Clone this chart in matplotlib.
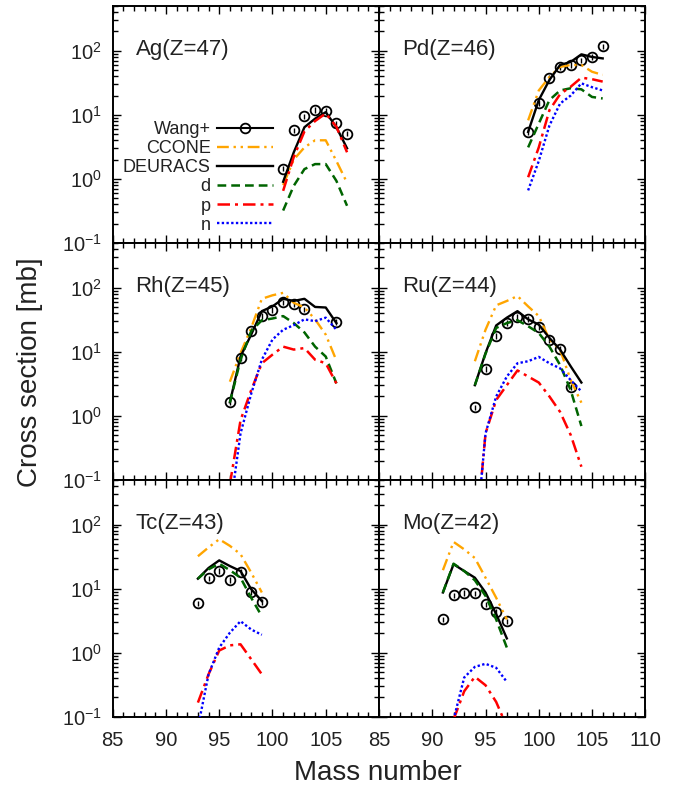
import matplotlib
matplotlib.use('Agg')
import matplotlib.pyplot as plt
from matplotlib.lines import Line2D
from matplotlib.ticker import LogLocator, MultipleLocator, NullFormatter

plt.rcParams['font.family'] = ['Liberation Sans', 'DejaVu Sans']
plt.rcParams['mathtext.fontset'] = 'custom'
plt.rcParams['mathtext.rm'] = 'Liberation Sans'
plt.rcParams['mathtext.default'] = 'regular'

TXT = '#222222'

# ---- data (cross sections in mb) ----
ag_A = [101, 102, 103, 104, 105, 106, 107]
ag_wang = [1.45, 5.7, 9.5, 12, 11.5, 7.4, 5.1]
ag_deuracs = [0.9, 2.6, 6.4, 8.7, 11, 6.4, 3.0]
ag_ccone = [0.8, 2.0, 3.1, 4.0, 4.0, 1.9, 0.87]
ag_d = [0.32, 0.78, 1.42, 1.7, 1.7, 0.93, 0.38]
ag_p = [0.65, 2.2, 5.5, 8.0, 10.5, 6.5, 2.6]

pd_A = [99, 100, 101, 102, 103, 104, 105, 106]
pd_wang = [5.4, 15.3, 38, 56, 60, 71, 80, 118]
pd_deuracs = [5.4, 17, 35, 60, 67, 88, 80, 76]
pd_ccone = [8.2, 24, 39, 56, 60, 60, 47, 42]
pd_d = [3.1, 7.3, 17, 24, 26, 25, 19, 18]
pd_p = [1.06, 3.1, 11.8, 21, 27.5, 38, 36, 33]
pd_n = [0.66, 1.9, 6.8, 15, 20, 31, 27, 24]

rh_A = [96, 97, 98, 99, 100, 101, 102, 103, 104, 105, 106]
rh_wang_A = [96, 97, 98, 99, 100, 101, 102, 103, 106]
rh_wang = [1.62, 8.1, 21, 36, 45, 59, 55, 46, 29]
rh_deuracs = [1.62, 8.4, 18.5, 43, 51, 67, 62, 67, 50, 49, 28]
rh_ccone = [3.4, 9.5, 23.5, 67, 76, 83, 58, 49, 32, 18.5, 7.3]
rh_d = [1.6, 7.5, 21, 31, 33, 36, 28, 20, 12, 8.4, 3.2]
rh_p = [0.085, 0.85, 2.5, 6.6, 9, 12, 10.8, 11.4, 7.5, 6.6, 3.2]
rh_n = [0.033, 0.53, 2.2, 7.5, 15.5, 22, 26, 32, 30, 34, 22]

ru_A = [94, 95, 96, 97, 98, 99, 100, 101, 102, 103, 104]
ru_wang_A = [94, 95, 96, 97, 98, 99, 100, 101, 102, 103]
ru_wang = [1.35, 5.4, 17.8, 28, 35, 32.5, 24.5, 15, 11, 2.85]
ru_deuracs = [3.0, 9.5, 25.7, 34, 43, 32, 26.5, 16.4, 10.8, 5.9, 3.3]
ru_ccone = [7.1, 22, 53, 62, 74, 51, 36, 15.5, 10.8, 3.6, 1.6]
ru_d = [3.0, 9.3, 23.5, 28, 31, 25, 19.6, 12, 6.2, 2.5, 0.69]
ru_p = [0.008, 0.53, 1.76, 3.0, 5.1, 4.1, 3.3, 2.0, 1.15, 0.5, 0.16]
ru_n = [0.008, 0.53, 2.0, 4.1, 6.6, 7.1, 8.3, 6.6, 5.5, 3.6, 2.4]

tc_A = [93, 94, 95, 96, 97, 98, 99]
tc_wang = [5.9, 14.5, 18.8, 13.8, 18.2, 8.8, 6.2]
tc_deuracs = [14.3, 21, 27.6, 22.5, 18.8, 9.8, 6.4]
tc_ccone = [32, 44, 59, 46.5, 34.5, 17.8, 8.7]
tc_d = [14.3, 20, 24.5, 19.4, 14.8, 7.2, 3.7]
tc_p = [0.166, 0.46, 1.08, 1.3, 1.35, 0.79, 0.46]
tc_n = [0.068, 0.46, 1.2, 2.05, 3.1, 2.3, 1.9]

mo_A = [91, 92, 93, 94, 95, 96, 97]
mo_pn_A = [92, 93, 94, 95, 96, 97]
mo_wang = [3.3, 7.9, 8.6, 8.4, 5.7, 4.3, 3.1]
mo_deuracs = [8.7, 24, 18.8, 14.8, 8.7, 4.0, 1.67]
mo_ccone = [19.4, 53.6, 41, 30, 14.8, 7.2, 3.3]
mo_d = [8.7, 24.5, 18.8, 13.5, 7.7, 3.3, 1.2]
mo_p = [0.09, 0.25, 0.42, 0.31, 0.17, 0.07]
mo_n = [0.09, 0.41, 0.6, 0.67, 0.58, 0.35]

wang_rel_err = 0.1

panels = [
    dict(name='Ag(Z=47)', A=ag_A, wA=ag_A, wang=ag_wang, deuracs=ag_deuracs,
         ccone=ag_ccone, d=ag_d, p=ag_p, pnA=ag_A, n=None),
    dict(name='Pd(Z=46)', A=pd_A, wA=pd_A, wang=pd_wang, deuracs=pd_deuracs,
         ccone=pd_ccone, d=pd_d, p=pd_p, pnA=pd_A, n=pd_n),
    dict(name='Rh(Z=45)', A=rh_A, wA=rh_wang_A, wang=rh_wang, deuracs=rh_deuracs,
         ccone=rh_ccone, d=rh_d, p=rh_p, pnA=rh_A, n=rh_n),
    dict(name='Ru(Z=44)', A=ru_A, wA=ru_wang_A, wang=ru_wang, deuracs=ru_deuracs,
         ccone=ru_ccone, d=ru_d, p=ru_p, pnA=ru_A, n=ru_n),
    dict(name='Tc(Z=43)', A=tc_A, wA=tc_A, wang=tc_wang, deuracs=tc_deuracs,
         ccone=tc_ccone, d=tc_d, p=tc_p, pnA=tc_A, n=tc_n),
    dict(name='Mo(Z=42)', A=mo_A, wA=mo_A, wang=mo_wang, deuracs=mo_deuracs,
         ccone=mo_ccone, d=mo_d, p=mo_p, pnA=mo_pn_A, n=mo_n),
]

x_ticks = [85, 90, 95, 100, 105, 110]
x_ticklabels_left = ['85', '90', '95', '100', '105', '']
x_ticklabels_right = ['85', '90', '95', '100', '105', '110']

sty = {
    'ccone': dict(color='#FFA500', ls=(0, (5, 2, 1, 2, 1, 2)), lw=1.7),
    'deuracs': dict(color='black', ls='-', lw=1.7),
    'd': dict(color='#006400', ls=(0, (3.5, 2)), lw=1.8),
    'p': dict(color='#FF0000', ls=(0, (5, 2, 1.2, 2)), lw=1.8),
    'n': dict(color='#0000FF', ls=(0, (1, 1)), lw=1.7),
}

W, H = 689, 790
fig = plt.figure(figsize=(W / 100, H / 100), dpi=100)

x0, pw = 112.7, 266.3
y0, ph = 6.0, 236.9

for i, pnl in enumerate(panels):
    r, c = divmod(i, 2)
    ax = fig.add_axes([(x0 + c * pw) / W, 1 - (y0 + (r + 1) * ph) / H, pw / W, ph / H])
    ax.set_yscale('log')

    errs = [v * wang_rel_err for v in pnl['wang']]
    ax.errorbar(pnl['wA'], pnl['wang'], yerr=errs, fmt='o', ms=7, mfc='none',
                mec='black', mew=1.3, ecolor='black', elinewidth=1.0, capsize=0,
                zorder=3)
    ax.plot(pnl['A'], pnl['ccone'], **sty['ccone'], zorder=4)
    ax.plot(pnl['A'], pnl['deuracs'], **sty['deuracs'], zorder=5)
    ax.plot(pnl['A'], pnl['d'], **sty['d'], zorder=6)
    ax.plot(pnl['pnA'], pnl['p'], **sty['p'], zorder=7)
    if pnl['n'] is not None:
        ax.plot(pnl['pnA'], pnl['n'], **sty['n'], zorder=8)

    ax.set_xlim(85, 110)
    ax.set_ylim(0.1, 500)
    ax.set_xticks(x_ticks)
    ax.set_xticklabels(x_ticklabels_left if c == 0 else x_ticklabels_right)
    ax.xaxis.set_minor_locator(MultipleLocator(1))
    ax.yaxis.set_major_locator(LogLocator(base=10, numticks=10))
    ax.yaxis.set_minor_locator(LogLocator(base=10, subs=range(2, 10), numticks=20))
    ax.yaxis.set_minor_formatter(NullFormatter())
    ax.tick_params(which='both', direction='in', top=True, right=True,
                   labelsize=14.5, labelcolor=TXT, width=1.0)
    ax.tick_params(axis='x', which='both', pad=10.5)
    ax.tick_params(axis='y', which='both', pad=8)
    ax.tick_params(which='major', length=6)
    ax.tick_params(which='minor', length=3.5)
    if r < 2:
        ax.tick_params(labelbottom=False)
    if c == 1:
        ax.tick_params(labelleft=False)
    for s in ax.spines.values():
        s.set_linewidth(1.4)

    ax.text(0.086, 0.815, pnl['name'], transform=ax.transAxes, fontsize=16,
            color=TXT, ha='left', va='center')

    if i == 0:
        handles = [
            Line2D([], [], color='black', lw=1.5, marker='o', ms=7, mfc='none', mew=1.3),
            Line2D([], [], **sty['ccone']),
            Line2D([], [], **sty['deuracs']),
            Line2D([], [], **sty['d']),
            Line2D([], [], **sty['p']),
            Line2D([], [], **sty['n']),
        ]
        labels = ['Wang+', 'CCONE', 'DEURACS', 'd', 'p', 'n']
        leg = ax.legend(handles, labels, loc='upper right',
                        bbox_to_anchor=(0.602, 0.515), frameon=False,
                        markerfirst=False, handlelength=3.1, handletextpad=0.35,
                        labelspacing=0.12, borderpad=0, borderaxespad=0,
                        fontsize=13, labelcolor=TXT)
        for col in leg._legend_handle_box.get_children():
            col.align = 'right'

fig.text(30 / W, 1 - 372 / H, 'Cross section [mb]', rotation=90, fontsize=20,
         color=TXT, ha='center', va='center')
fig.text(378 / W, 1 - 773 / H, 'Mass number', fontsize=20, color=TXT,
         ha='center', va='center')

fig.savefig('out.png', dpi=100)
